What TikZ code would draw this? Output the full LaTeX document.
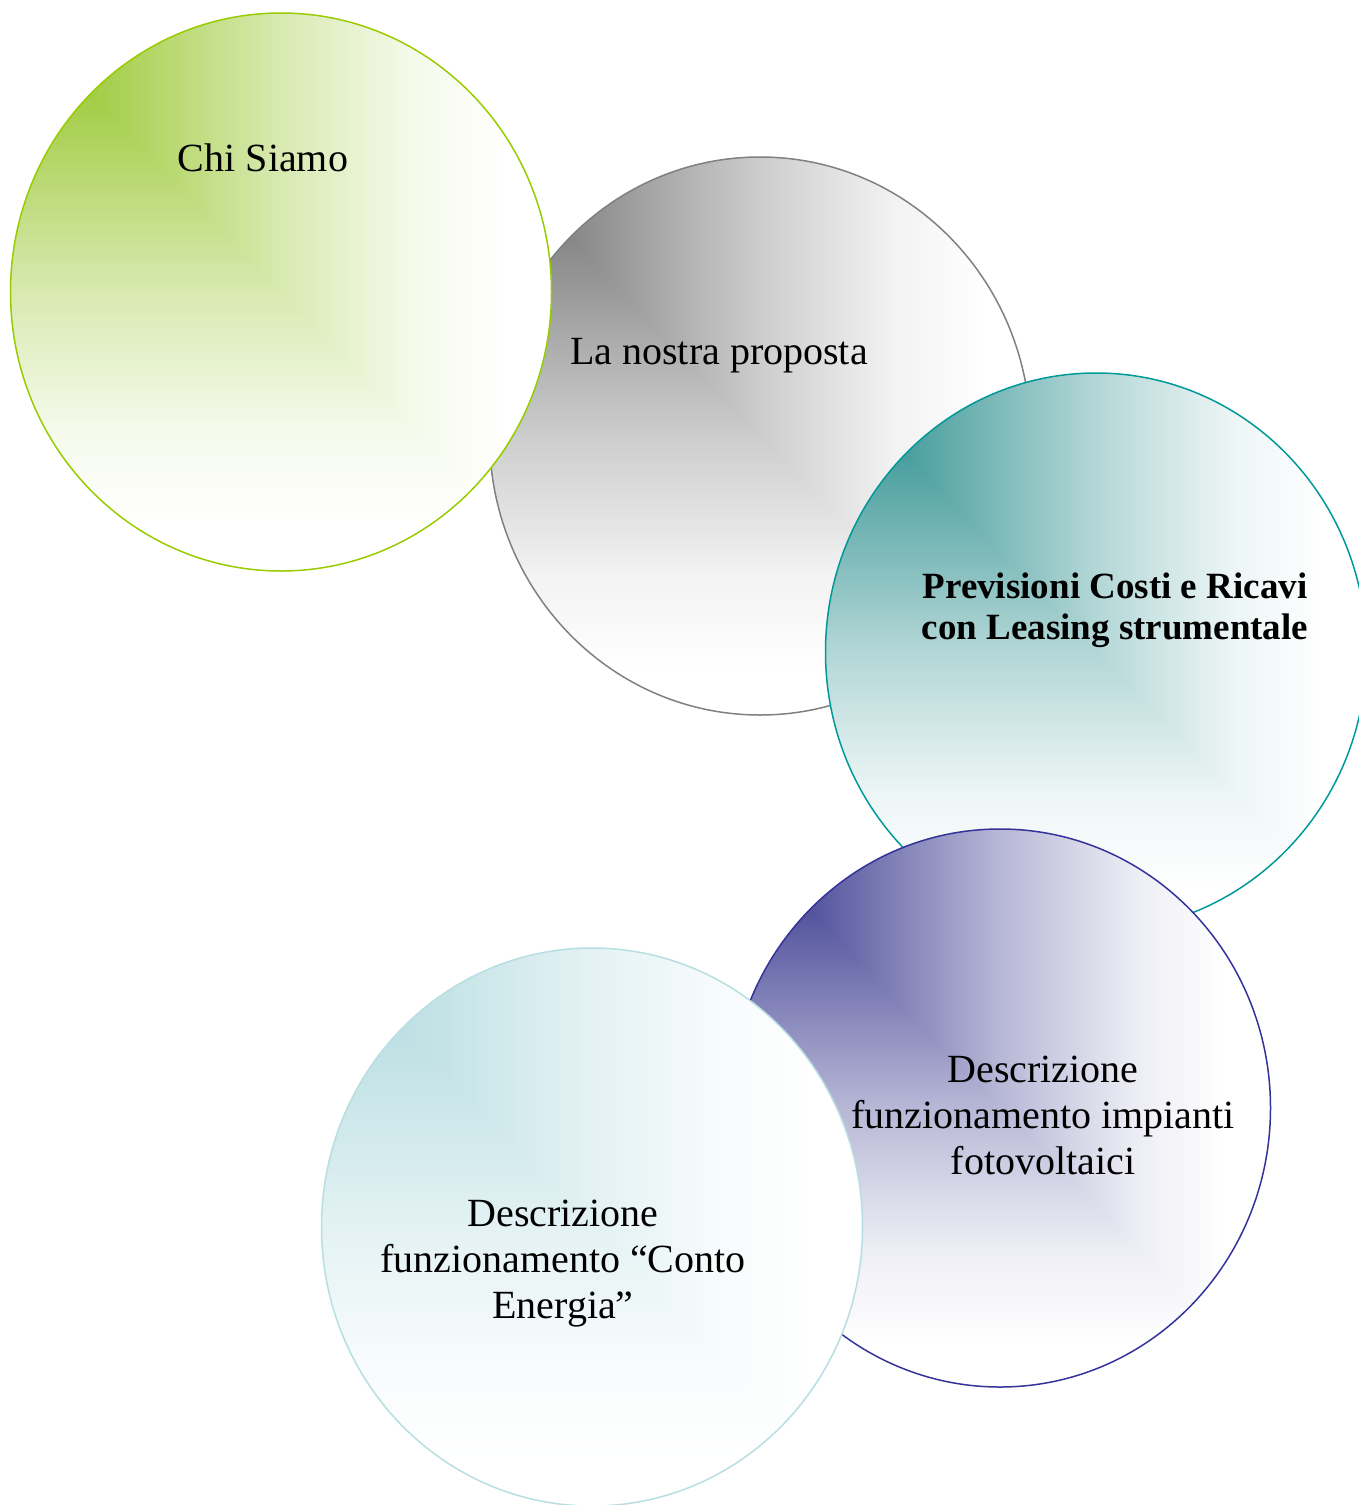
\documentclass[tikz,border=0pt]{standalone}
\usepackage{fontspec}
\setmainfont{Liberation Serif}
\usetikzlibrary{shapes.geometric}
\definecolor{colorChi}{RGB}{158,202,60}
\definecolor{colorChiLine}{RGB}{153,204,0}
\definecolor{colorProposta}{RGB}{130,130,130}
\definecolor{colorPropostaLine}{RGB}{128,128,128}
\definecolor{colorPrevisioni}{RGB}{66,154,154}
\definecolor{colorPrevisioniLine}{RGB}{0,153,153}
\definecolor{colorImpianti}{RGB}{76,76,154}
\definecolor{colorImpiantiLine}{RGB}{51,51,153}
\definecolor{colorConto}{RGB}{186,222,226}
\definecolor{colorContoLine}{RGB}{183,222,225}
\colorlet{bubbletint}{colorChi}
\pgfdeclarehorizontalshading[bubbletint]{bubbleH}{100bp}{color(0bp)=(bubbletint); color(31bp)=(bubbletint);
  color(50bp)=(bubbletint!40); color(62.5bp)=(bubbletint!10); color(71bp)=(white); color(100bp)=(white)}
\pgfdeclareverticalshading[bubbletint]{bubbleV}{100bp}{color(0bp)=(white); color(29bp)=(white);
  color(37.5bp)=(bubbletint!10); color(50bp)=(bubbletint!40); color(69bp)=(bubbletint); color(100bp)=(bubbletint)}
\tikzset{
  bubble/.style 2 args={ellipse, draw=#1, line width=1.5pt, inner sep=0pt,
    minimum width=541pt, minimum height=558pt,
    path picture={
      \colorlet{bubbletint}{#2}
      \shade[shading=bubbleH]
        (path picture bounding box.north west) rectangle (path picture bounding box.south east);
      \shade[shading=bubbleV]
        (path picture bounding box.north west) -- (path picture bounding box.south east)
        -- (path picture bounding box.south west) -- cycle;
    }},
  caption/.style={font=\fontsize{40}{46}\selectfont, align=center, anchor=base},
}
\begin{document}
\begin{tikzpicture}[x=1pt, y=-1pt]
\useasboundingbox (0,0) rectangle (1359,1505);
\node[bubble={colorPropostaLine}{colorProposta}] (c2) at (760,436) {};
\node[bubble={colorChiLine}{colorChi}] (c1) at (281,292) {};
\node[bubble={colorPrevisioniLine}{colorPrevisioni}] (c3) at (1096,652) {};
\node[bubble={colorImpiantiLine}{colorImpianti}] (c4) at (1000,1108) {};
\node[bubble={colorContoLine}{colorConto}] (c5) at (592,1227) {};
% base anchor sits on the last line of each caption
\node[caption] (t1) at (263,171) {Chi Siamo};
\node[caption] (t2) at (719,364) {La nostra proposta};
\node[caption, font=\fontsize{37}{41}\selectfont\bfseries] (t3) at (1115,639) {Previsioni Costi e Ricavi\\con Leasing strumentale};
\node[caption] (t4) at (1043,1174) {Descrizione\\funzionamento impianti\\fotovoltaici};
\node[caption] (t5) at (563,1318) {Descrizione\\funzionamento “Conto\\Energia”};
\end{tikzpicture}
\end{document}
